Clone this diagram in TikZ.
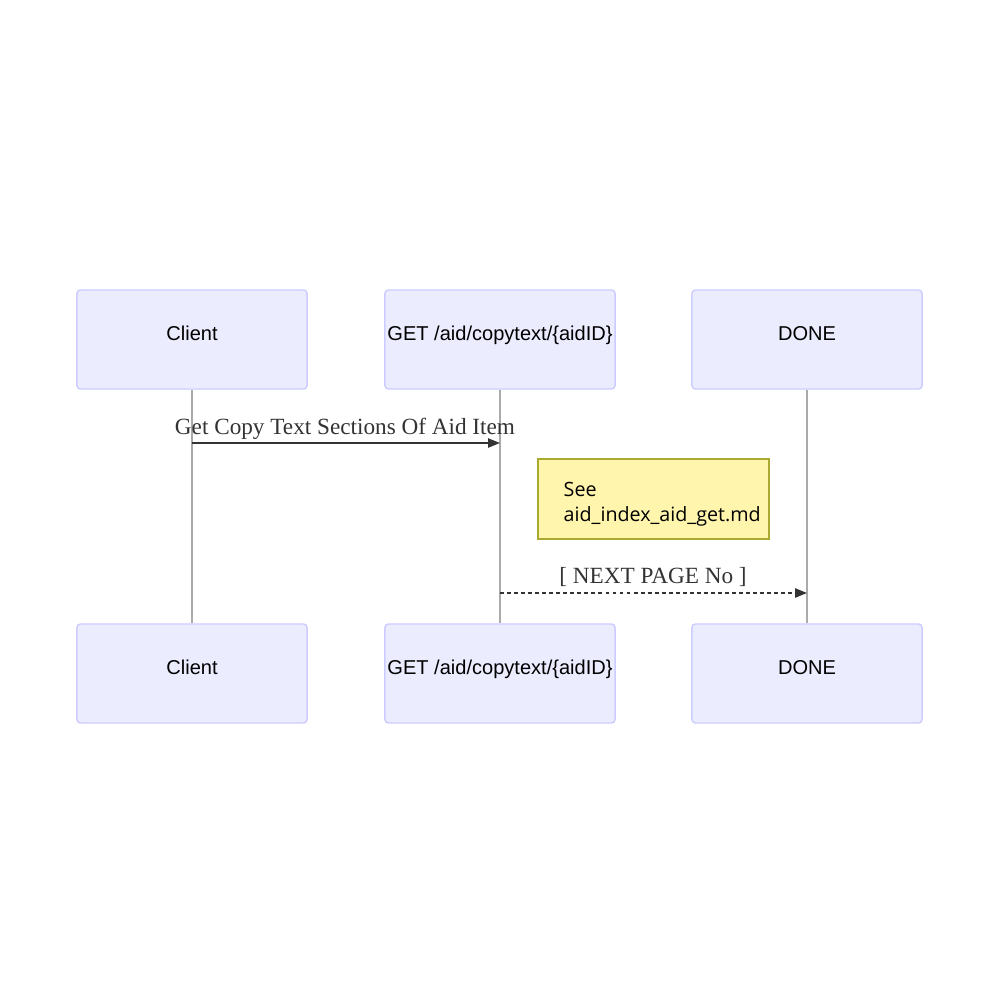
\documentclass[tikz,border=0pt]{standalone}
\usepackage{fontspec}
\setmainfont{Liberation Serif}
\setsansfont{Liberation Sans}
\newfontfamily\notefont{Open Sans}
\usetikzlibrary{arrows.meta}

\definecolor{actorfill}{HTML}{ECECFF}
\definecolor{actorline}{HTML}{CCCCFF}
\definecolor{notefill}{HTML}{FFF5AD}
\definecolor{noteline}{HTML}{AAAA33}
\definecolor{msgcol}{HTML}{333333}
\definecolor{lifecol}{HTML}{AAAAAA}

\tikzset{
  actor/.style={draw=actorline, fill=actorfill, rounded corners=1pt, line width=0.4pt,
    minimum width=2.3cm, minimum height=0.99cm, inner sep=0pt,
    font=\sffamily\fontsize{5.7pt}{7pt}\selectfont},
  lifeline/.style={draw=lifecol, line width=0.3pt},
  msg/.style={draw=msgcol, line width=0.55pt, -{Triangle[length=3.4pt, width=2.6pt]}},
  msglabel/.style={text=msgcol, inner sep=0pt, font=\fontsize{6.6pt}{8pt}\selectfont},
  notebox/.style={draw=noteline, fill=notefill, line width=0.4pt,
    minimum width=2.31cm, minimum height=0.8cm, inner sep=0pt}
}

\begin{document}
\begin{tikzpicture}[x=0.01cm, y=-0.01cm]
\useasboundingbox (0,0) rectangle (1000,1000);
% actors, top row
\node[actor] (clienttop) at (192,339.5) {\raisebox{1.1ex}{Client}};
\node[actor] (gettop) at (500,339.5) {\raisebox{1.1ex}{GET /aid/copytext/\{aidID\}}};
\node[actor] (donetop) at (807,339.5) {\raisebox{1.1ex}{DONE}};
% actors, bottom row
\node[actor] (clientbot) at (192,673.5) {\raisebox{1.1ex}{Client}};
\node[actor] (getbot) at (500,673.5) {\raisebox{1.1ex}{GET /aid/copytext/\{aidID\}}};
\node[actor] (donebot) at (807,673.5) {\raisebox{1.1ex}{DONE}};
% lifelines
\draw[lifeline] (clienttop.south) -- (clientbot.north);
\draw[lifeline] (gettop.south) -- (getbot.north);
\draw[lifeline] (donetop.south) -- (donebot.north);
% messages
\coordinate (m1from) at (192,443);
\coordinate (m1to) at (500,443);
\draw[msg] (m1from) -- (m1to);
\node[msglabel] (m1label) at (345,429) {Get Copy Text Sections Of Aid Item};
\node[notebox] (note) at (653.5,499) {};
\node[anchor=west, align=left, inner sep=0pt, font=\notefont\fontsize{5.6pt}{7.1pt}\selectfont] (notetext) at (563,504) {See\\aid\_index\_aid\_get.md};
\coordinate (m2from) at (500,593);
\coordinate (m2to) at (807,593);
\draw[msg, dash pattern=on 1.1pt off 0.9pt] (m2from) -- (m2to);
\node[msglabel] (m2label) at (653,577) {[ NEXT PAGE No ]};
\end{tikzpicture}
\end{document}
